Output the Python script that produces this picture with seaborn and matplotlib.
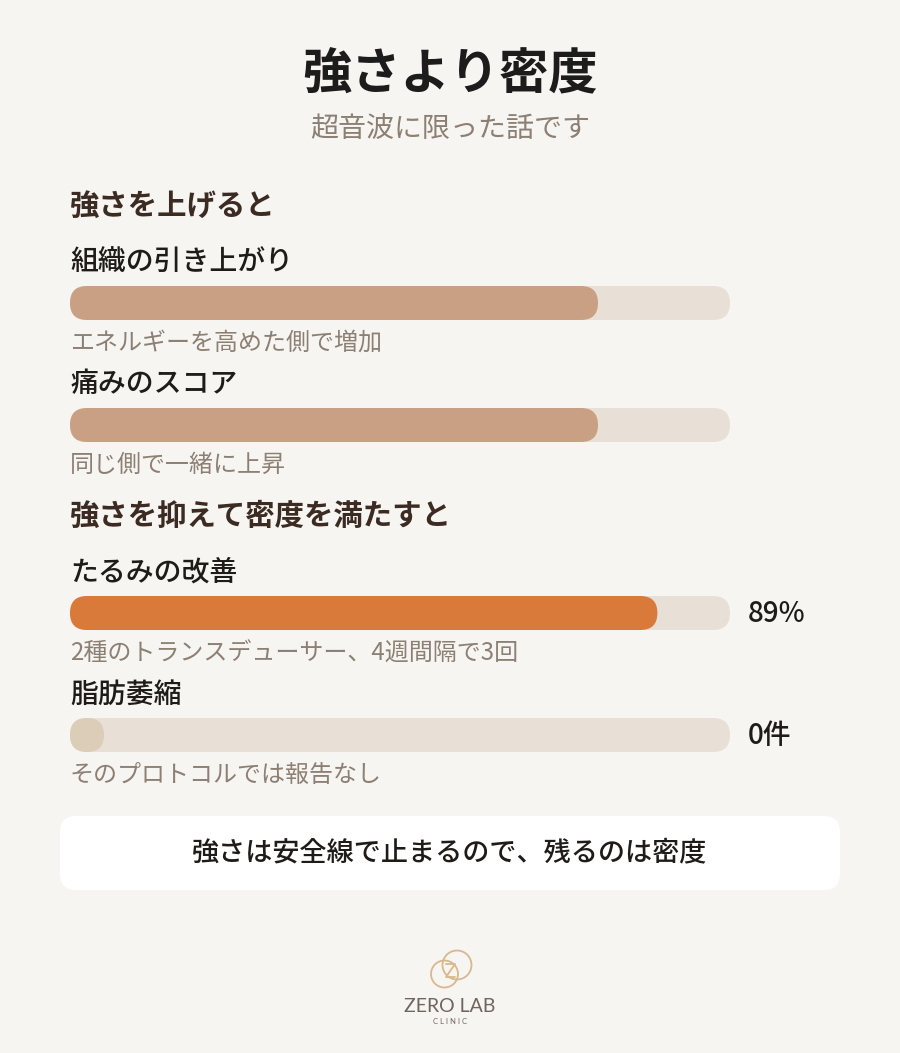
import pandas as pd
import matplotlib.pyplot as plt
import seaborn as sns
from matplotlib.patches import FancyBboxPatch, Circle

# chart text and values
title = "強さより密度"
subtitle = "超音波に限った話です"
sections = ["強さを上げると", "強さを抑えて密度を満たすと"]
labels = ["組織の引き上がり", "痛みのスコア", "たるみの改善", "脂肪萎縮"]
values = [80, 80, 89, 0]
value_texts = ["", "", "89%", "0件"]
notes = ["エネルギーを高めた側で増加", "同じ側で一緒に上昇",
         "2種のトランスデューサー、4週間隔で3回", "そのプロトコルでは報告なし"]
bar_colors = ["#C9A084", "#C9A084", "#DA7A3A", "#DCCDB8"]
footer = "強さは安全線で止まるので、残るのは密度"

BG = "#F7F5F1"
TRACK = "#E8DFD6"
DARK = "#1E1B18"
BROWN = "#3B2B22"
MUTED = "#8C7F73"

W, H = 900, 1053
sns.set_theme(style="white")
plt.rcParams['font.family'] = ['Noto Sans CJK JP', 'DejaVu Sans']

fig = plt.figure(figsize=(W / 100, H / 100), dpi=100, facecolor=BG)

# background axes in pixel units for all text
bg = fig.add_axes([0, 0, 1, 1])
bg.set_xlim(0, W)
bg.set_ylim(H, 0)
bg.axis("off")
bg.set_facecolor(BG)

bg.text(450, 75, title, ha="center", va="center", fontsize=35.5, fontweight="bold", color="#1C1C1C")
bg.text(450, 129, subtitle, ha="center", va="center", fontsize=20.2, color=MUTED)

section_y = [206, 516]
for s, y in zip(sections, section_y):
    bg.text(70, y, s, ha="left", va="center", fontsize=21.2, fontweight="bold", color=BROWN)

# layout of rows (pixel centres)
label_y = [261, 383, 572, 694]
bar_y = [303, 425, 613, 735]
note_y = [343, 465, 654, 775]
BAR_X0, BAR_W, BAR_H = 70, 660, 34


def round_patches(ax, radius_px):
    # swap the rectangular bars for pill shapes
    px_per_x = BAR_W / 100
    r = radius_px / px_per_x
    for p in list(ax.patches):
        x, y, w, h = p.get_x(), p.get_y(), p.get_width(), p.get_height()
        w = max(w, 2 * r)
        pill = FancyBboxPatch((x, y), w, h, boxstyle=f"round,pad=0,rounding_size={r}",
                              mutation_aspect=(h / 2) / r, facecolor=p.get_facecolor(),
                              edgecolor="none", zorder=p.get_zorder())
        p.remove()
        ax.add_patch(pill)


df = pd.DataFrame({"label": labels, "value": values, "text": value_texts, "note": notes})
for i, row in df.iterrows():
    bg.text(70, label_y[i], row["label"], ha="left", va="center", fontsize=20.1,
            fontweight="medium", color=DARK)
    bg.text(70, note_y[i], row["note"], ha="left", va="center", fontsize=17.3, color=MUTED)
    if row["text"]:
        bg.text(748, bar_y[i], row["text"], ha="left", va="center", fontsize=20,
                fontweight="medium", color=DARK)

    ax = fig.add_axes([BAR_X0 / W, 1 - (bar_y[i] + BAR_H / 2) / H, BAR_W / W, BAR_H / H])
    one = pd.DataFrame({"y": [0], "track": [100], "value": [row["value"]]})
    sns.barplot(data=one, x="track", y="y", orient="h", color=TRACK, width=1.0,
                saturation=1, ax=ax)
    sns.barplot(data=one, x="value", y="y", orient="h", color=bar_colors[i], width=1.0,
                saturation=1, ax=ax)
    ax.set_xlim(0, 100)
    ax.set_ylim(0.5, -0.5)
    round_patches(ax, BAR_H / 2)
    ax.axis("off")
    ax.patch.set_alpha(0)

# footer box
box = FancyBboxPatch((60, 816), 780, 74, boxstyle="round,pad=0,rounding_size=16",
                     facecolor="white", edgecolor="none")
bg.add_patch(box)
bg.text(450, 853, footer, ha="center", va="center", fontsize=19.5, fontweight="medium", color=DARK)

# logo
gold = "#D9B88E"
bg.add_patch(Circle((444.5, 974), 13.5, fill=False, edgecolor=gold, lw=1.3))
bg.add_patch(Circle((457, 965), 14.5, fill=False, edgecolor=gold, lw=1.3))
bg.plot([446, 455, 446, 455], [964, 964, 977, 977], color=gold, lw=1.3)
bg.text(450, 1007, "ZERO LAB", ha="center", va="center", fontsize=14, color="#6F655E",
        family=["Lato", "DejaVu Sans"])
bg.text(450, 1022, "C L I N I C", ha="center", va="center", fontsize=5.5, color="#6F655E",
        family=["Lato", "DejaVu Sans"])

fig.savefig("out.png", dpi=100, facecolor=BG)
